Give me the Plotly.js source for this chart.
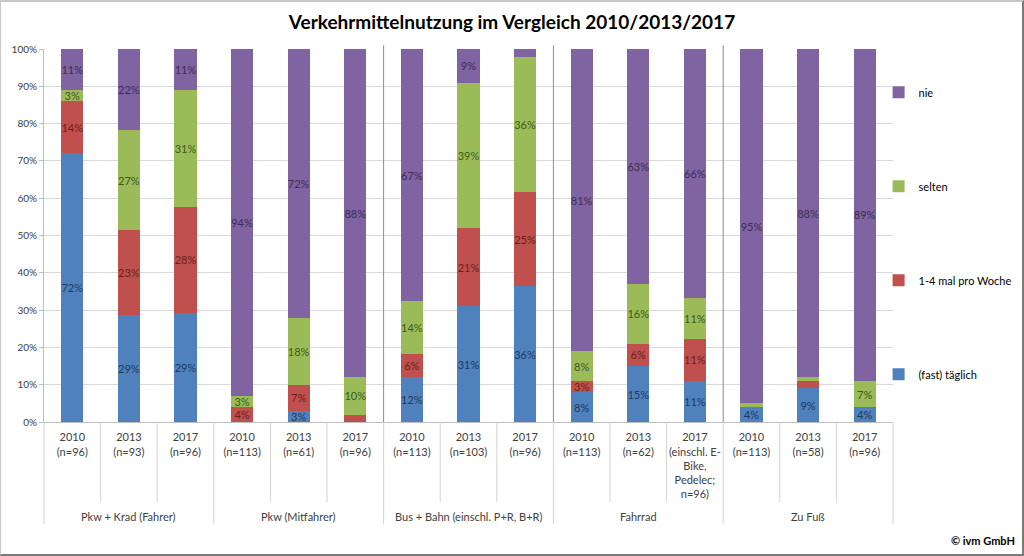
<!DOCTYPE html>
<html>
<head>
<meta charset="utf-8">
<script src="https://cdn.plot.ly/plotly-3.0.1.min.js"></script>
<style>
  html, body { margin: 0; padding: 0; background: #fff; }
  #chart { position: absolute; left: 0; top: 0; width: 1024px; height: 556px; }
  #frame { position: absolute; left: 0; top: 0; width: 1024px; height: 556px; box-sizing: border-box;
           border-top: 2px solid #c8c8c8; border-left: 1px solid #c8c8c8;
           border-right: 2px solid #7a7a7a; border-bottom: 2px solid #7a7a7a; pointer-events: none; }
</style>
</head>
<body>
<div id="chart"></div>
<div id="frame"></div>
<script>
// ---- data ----
const groupNames = ["Pkw + Krad (Fahrer)", "Pkw (Mitfahrer)", "Bus + Bahn (einschl. P+R, B+R)", "Fahrrad", "Zu Fuß"];
const groups = [
  "Pkw + Krad (Fahrer)", "Pkw + Krad (Fahrer)", "Pkw + Krad (Fahrer)",
  "Pkw (Mitfahrer)", "Pkw (Mitfahrer)", "Pkw (Mitfahrer)",
  "Bus + Bahn (einschl. P+R, B+R)", "Bus + Bahn (einschl. P+R, B+R)", "Bus + Bahn (einschl. P+R, B+R)",
  "Fahrrad", "Fahrrad", "Fahrrad",
  "Zu Fuß", "Zu Fuß", "Zu Fuß"
];
const tickLabels = [
  "2010<br>(n=96)", "2013<br>(n=93)", "2017<br>(n=96)",
  "2010<br>(n=113)", "2013<br>(n=61)", "2017<br>(n=96)",
  "2010<br>(n=113)", "2013<br>(n=103)", "2017<br>(n=96)",
  "2010<br>(n=113)", "2013<br>(n=62)", "2017<br>(einschl. E-<br>Bike,<br>Pedelec;<br>n=96)",
  "2010<br>(n=113)", "2013<br>(n=58)", "2017<br>(n=96)"
];
const taeglich = [72, 29, 29,  0,  3,  0, 12, 31, 36,  8, 15, 11,  4,  9,  4];
const woche    = [14, 23, 28,  4,  7,  2,  6, 21, 25,  3,  6, 11,  0,  2,  0];
const selten   = [ 3, 27, 31,  3, 18, 10, 14, 39, 36,  8, 16, 11,  1,  1,  7];
const nie      = [11, 22, 11, 94, 72, 88, 67,  9,  2, 81, 63, 66, 95, 88, 89];

const seriesNames = ["(fast) täglich", "1-4 mal pro Woche", "selten", "nie"];
const seriesVals = [taeglich, woche, selten, nie];
const seriesColors = ["#4f81bd", "#c0504d", "#9bbb59", "#8064a2"];
const labelColors = ["#1f3a60", "#6b1f1d", "#3d5a1c", "#3b2c55"];

const FONT = "Lato, 'Liberation Sans', sans-serif";

// unique category ids (group + tick label)
const cats = groups.map((g, i) => g + " | " + tickLabels[i]);

const traces = seriesVals.map((vals, i) => ({
  type: "bar",
  name: seriesNames[i],
  legendgroup: "g" + i,
  legendrank: 4 - i,
  x: cats,
  y: vals,
  marker: { color: seriesColors[i], line: { width: 0 } },
  text: vals.map(v => v >= 3 ? v + "%" : ""),
  textposition: "inside",
  insidetextanchor: "middle",
  textangle: 0,
  constraintext: "none",
  textfont: { family: FONT, size: 11, color: labelColors[i] },
  hoverinfo: "skip"
}));

const N = cats.length;
const shapes = [];
// separators below the axis
for (let k = 0; k <= N; k++) {
  const isGroup = (k % 3 === 0);
  shapes.push({
    type: "line", xref: "paper", yref: "paper",
    x0: k / N, x1: k / N, y0: 0, y1: isGroup ? -(524 - 422) / 373 : -(502 - 422) / 373,
    line: { color: "#d4d4d4", width: 1 }
  });
}
// dark separators inside the plot
[6, 9, 12].forEach(k => shapes.push({
  type: "line", xref: "paper", yref: "paper",
  x0: k / N, x1: k / N, y0: 0, y1: 1.01,
  line: { color: "#8c8c8c", width: 1 }
}));

const annotations = groupNames.map((g, j) => ({
  text: g, xref: "x", yref: "paper",
  x: cats[j * 3 + 1], y: -(516 - 422) / 373, yanchor: "middle",
  showarrow: false, font: { family: FONT, size: 11, color: "#404040" }
}));
annotations.push({
  text: "<b>© ivm GmbH</b>", xref: "paper", yref: "paper",
  x: (1017 - 44) / 849, xanchor: "right", y: -(540 - 422) / 373, yanchor: "middle",
  showarrow: false, font: { family: FONT, size: 11, color: "#000000" }
});

const layout = {
  width: 1024, height: 556,
  margin: { l: 44, r: 131, t: 49, b: 134, autoexpand: false },
  paper_bgcolor: "#ffffff", plot_bgcolor: "#ffffff",
  font: { family: FONT, size: 10, color: "#404040" },
  title: {
    text: "<b>Verkehrmittelnutzung im Vergleich 2010/2013/2017</b>",
    font: { family: FONT, size: 19, color: "#000000" },
    x: 0.5, xanchor: "center", xref: "container", y: 0.96, yanchor: "middle", yref: "container"
  },
  barmode: "stack",
  barnorm: "percent",
  bargap: 0.61,
  showlegend: true,
  legend: {
    xref: "container", yref: "container",
    x: 0.858, xanchor: "left", y: 0.86, yanchor: "top",
    traceorder: "grouped",
    tracegroupgap: 75,
    maxheight: 420,
    font: { family: FONT, size: 11, color: "#000000" },
    bgcolor: "rgba(0,0,0,0)"
  },
  xaxis: {
    type: "category",
    tickvals: cats, ticktext: tickLabels, tickangle: 0,
    showline: true, linecolor: "#bfbfbf", linewidth: 1,
    showgrid: false, ticks: "", ticklabelstandoff: 5,
    tickfont: { family: FONT, size: 11, color: "#404040" },
    fixedrange: true
  },
  yaxis: {
    range: [0, 100],
    tickvals: [0, 10, 20, 30, 40, 50, 60, 70, 80, 90, 100],
    ticktext: ["0%", "10%", "20%", "30%", "40%", "50%", "60%", "70%", "80%", "90%", "100%"],
    showgrid: true, gridcolor: "#d9d9d9", gridwidth: 1,
    showline: true, linecolor: "#bfbfbf", linewidth: 1,
    ticks: "outside", ticklen: 4, tickcolor: "#bfbfbf",
    tickfont: { family: FONT, size: 10, color: "#404040" },
    zeroline: false, fixedrange: true
  },
  shapes: shapes,
  annotations: annotations
};

Plotly.newPlot("chart", traces, layout, { displayModeBar: false, staticPlot: true });
</script>
</body>
</html>
